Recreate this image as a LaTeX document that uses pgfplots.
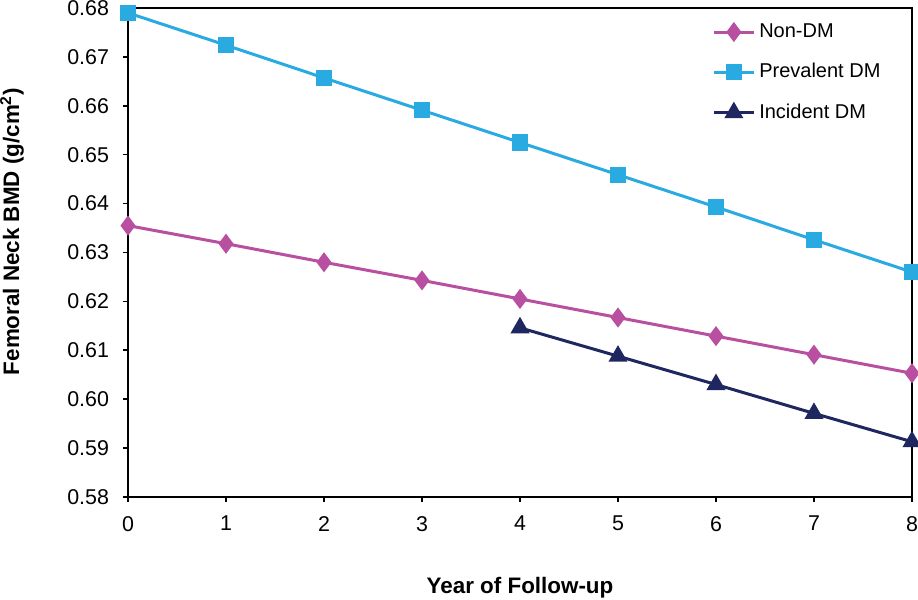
\documentclass[border=0pt]{standalone}
\usepackage{pgfplots}
\pgfplotsset{compat=1.18}
\usepackage{fontspec}
\setmainfont{Liberation Sans}
\definecolor{nondm}{RGB}{185,79,161}
\definecolor{prev}{RGB}{41,171,226}
\definecolor{incid}{RGB}{31,39,96}
\begin{document}
\begin{tikzpicture}
\begin{axis}[
  scale only axis,
  width=392pt, height=244.5pt,
  xmin=0, xmax=8, ymin=0.58, ymax=0.68,
  xtick={0,1,...,8},
  ytick={0.58,0.59,...,0.68},
  yticklabel style={/pgf/number format/.cd, fixed, fixed zerofill, precision=2, /tikz/.cd, xshift=-3.5pt},
  xticklabel style={yshift=-3.5pt},
  /pgf/number format/assume math mode=true,
  tick align=outside,
  xtick pos=bottom, ytick pos=left,
  major tick length=2.5pt,
  axis line style={line width=1.3pt},
  every tick/.style={black, line width=0.8pt},
  tick label style={font=\fontsize{10.7}{12}\selectfont},
  xlabel={\textbf{Year of Follow-up}},
  ylabel={\textbf{Femoral Neck BMD (g/cm\textsuperscript{2})}},
  label style={font=\fontsize{11.2}{13}\selectfont},
  xlabel style={at={(axis description cs:0.5,-0.186)}, anchor=center},
  ylabel style={at={(axis description cs:-0.148,0.543)}, anchor=center, rotate=0},
  legend style={draw=none, fill=none, at={(0.745,0.977)}, anchor=north west,
    font=\fontsize{10}{12}\selectfont, row sep=7.5pt, inner sep=0pt},
  legend cell align=left,
  legend image code/.code={\draw[mark repeat=2,mark phase=2] plot coordinates {(0cm,0cm) (0.35cm,0cm) (0.7cm,0cm)};},
  clip=false,
]
\addplot[nondm, line width=1.5pt, mark=diamond*, mark size=3.8pt, mark options={solid}]
  coordinates {(0,0.6355) (1,0.6318) (2,0.6280) (3,0.6243) (4,0.6205) (5,0.6167) (6,0.6129) (7,0.6091) (8,0.6053)};
\addlegendentry{Non-DM}
\addplot[prev, line width=1.5pt, mark=square*, mark size=3.3pt]
  coordinates {(0,0.6790) (1,0.6724) (2,0.6657) (3,0.6591) (4,0.6525) (5,0.6459) (6,0.6393) (7,0.6326) (8,0.6260)};
\addlegendentry{Prevalent DM}
\addplot[incid, line width=1.5pt, mark=triangle*, mark size=4pt]
  coordinates {(4,0.6146) (5,0.6088) (6,0.6030) (7,0.5971) (8,0.5913)};
\addlegendentry{Incident DM}
\end{axis}
\pgfresetboundingbox
\path[use as bounding box] (-64pt,-51.5pt) rectangle (395pt,248.5pt);
\end{tikzpicture}
\end{document}
